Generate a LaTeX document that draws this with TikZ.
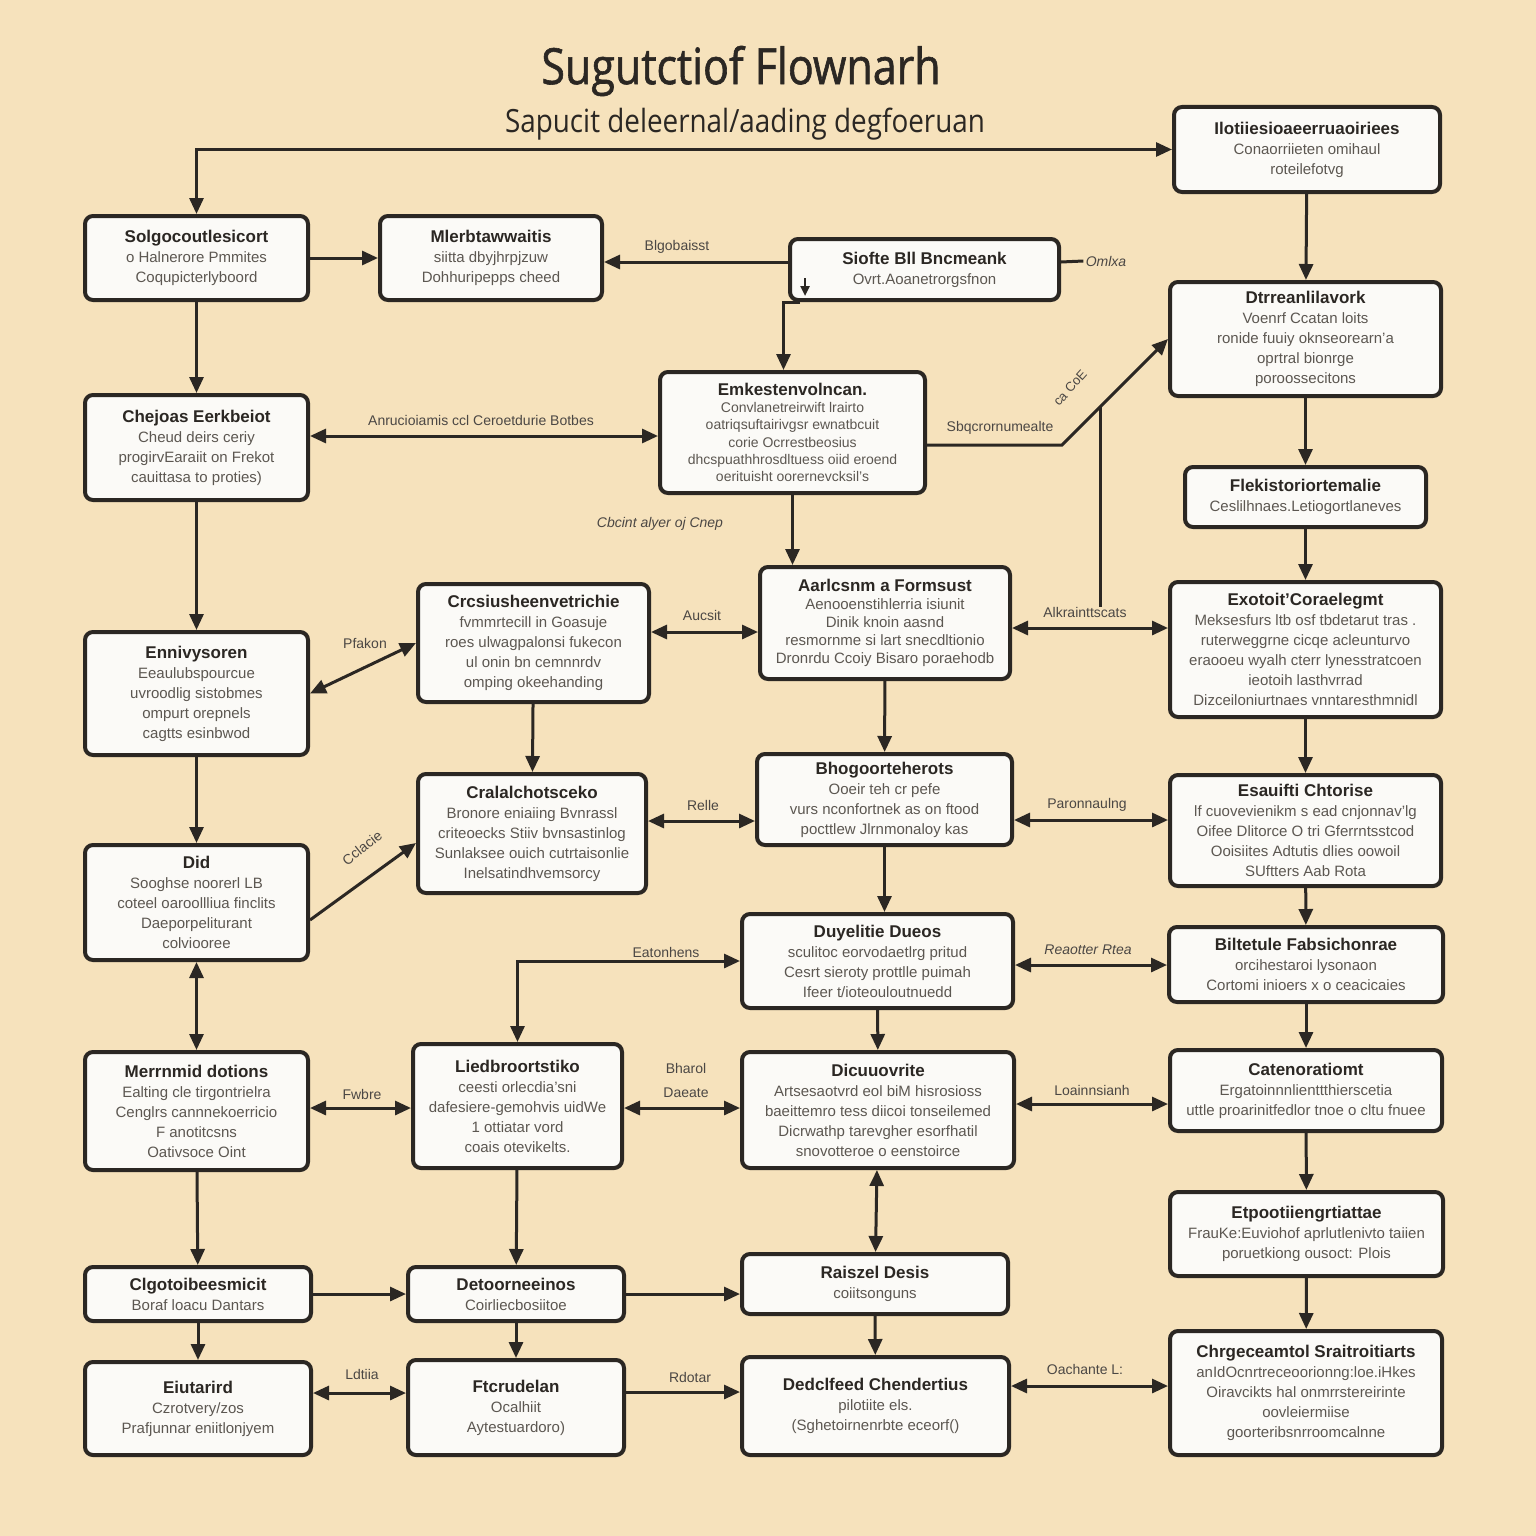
\documentclass[tikz,border=0pt]{standalone}
\usepackage{fontspec}
\setmainfont{Liberation Sans}
\newfontfamily\titlefont[FakeBold=1.2, FakeStretch=0.86]{Open Sans}
\newfontfamily\subfont[FakeStretch=0.87]{Open Sans}
\usetikzlibrary{arrows.meta, calc}

\definecolor{paper}{HTML}{F6E2BC}
\definecolor{ink}{HTML}{2B2723}
\definecolor{body}{HTML}{5C5751}
\definecolor{cardfill}{HTML}{FBFAF7}

\tikzstyle{card}=[draw=ink, line width=2pt, rounded corners=4pt, fill=cardfill, align=center, text=body, inner sep=2pt, font=\fontsize{7.5}{10}\selectfont]
\tikzstyle{lbl}=[text=ink!85, inner sep=1pt, font=\fontsize{7}{8}\selectfont]
\tikzstyle{wire}=[draw=ink, line width=1.5pt]
\tikzset{wh/.style 2 args={minimum width=#1*0.5pt-2pt, minimum height=#2*0.5pt-2pt}}
\newcommand{\card}{\node[card]}
\newcommand{\hd}[1]{\textcolor{ink}{\bfseries\fontsize{8.5}{10}\selectfont #1}}

\begin{document}
\begin{tikzpicture}[x=0.5pt, y=-0.5pt, >={Triangle[length=8pt, width=7pt]}]
\useasboundingbox (0,0) rectangle (1536,1536);
\fill[paper] (0,0) rectangle (1536,1536);

\node[text=ink] (title) at (741,71) {\titlefont\fontsize{25}{30}\selectfont Sugutctiof Flownarh};
\node[text=ink] (subtitle) at (745,124) {\subfont\fontsize{16}{20}\selectfont Sapucit deleernal/aading degfoeruan};

% left column
\card (A1) at (196.5,258) [wh={227}{88}] {\hd{Solgocoutlesicort}\\o Halnerore Pmmites\\Coqupicterlyboord};
\card (A2) at (196.5,447.5) [wh={227}{109}] {\hd{Chejoas Eerkbeiot}\\Cheud deirs ceriy\\progirvEaraiit on Frekot\\cauittasa to proties)};
\card (A3) at (196.5,693.5) [wh={227}{127}] {\hd{Ennivysoren}\\Eeaulubspourcue\\uvroodlig sistobmes\\ompurt orepnels\\cagtts esinbwod};
\card (A4) at (196.5,902.5) [wh={227}{119}] {\hd{Did}\\Sooghse noorerl LB\\coteel oaroollliua finclits\\Daeporpeliturant\\colviooree};
\card (A5) at (196.5,1111) [wh={227}{122}] {\hd{Merrnmid dotions}\\Ealting cle tirgontrielra\\Cenglrs cannnekoerricio\\F anotitcsns\\Oativsoce Oint};
\card (A6) at (198,1294) [wh={230}{58}] {\hd{Clgotoibeesmicit}\\Boraf loacu Dantars};
\card (A7) at (198,1408.5) [wh={230}{97}] {\hd{Eiutarird}\\Czrotvery/zos\\Prafjunnar eniitlonjyem};

% second column
\card (B1) at (491,258) [wh={226}{88}] {\hd{Mlerbtawwaitis}\\siitta dbyjhrpjzuw\\Dohhuripepps cheed};
\card (B2) at (533.5,643) [wh={235}{122}] {\hd{Crcsiusheenvetrichie}\\fvmmrtecill in Goasuje\\roes ulwagpalonsi fukecon\\ul onin bn cemnnrdv\\omping okeehanding};
\card (B3) at (532,833.5) [wh={232}{123}] {\hd{Cralalchotsceko}\\Bronore eniaiing Bvnrassl\\criteoecks Stiiv bvnsastinlog\\Sunlaksee ouich cutrtaisonlie\\Inelsatindhvemsorcy};
\card (B4) at (517.5,1106) [wh={213}{128}] {\hd{Liedbroortstiko}\\ceesti orlecdia'sni\\dafesiere-gemohvis uidWe\\1 ottiatar vord\\coais otevikelts.};
\card (B5) at (516,1294) [wh={220}{58}] {\hd{Detoorneeinos}\\Coirliecbosiitoe};
\card (B6) at (516,1407.5) [wh={220}{99}] {\hd{Ftcrudelan}\\Ocalhiit\\Aytestuardoro)};

% third column
\card (C0) at (924.5,269.5) [wh={273}{65}] {\hd{Siofte Bll Bncmeank}\\Ovrt.Aoanetrorgsfnon};
\card (C1) at (792.5,432.5) [wh={269}{125}, font=\fontsize{7}{8.6}\selectfont] {\hd{Emkestenvolncan.}\\Convlanetreirwift lrairto\\oatriqsuftairivgsr ewnatbcuit\\corie Ocrrestbeosius\\dhcspuathhrosdltuess oiid eroend\\oerituisht oorernevcksil's};
\card (C2) at (885,623) [wh={254}{116}, font=\fontsize{7.5}{9}\selectfont] {\hd{Aarlcsnm a Formsust}\\Aenooenstihlerria isiunit\\Dinik knoin aasnd\\resmornme si lart snecdltionio\\Dronrdu Ccoiy Bisaro poraehodb};
\card (C3) at (884.5,799.5) [wh={259}{95}] {\hd{Bhogoorteherots}\\Ooeir teh cr pefe\\vurs nconfortnek as on ftood\\pocttlew Jlrnmonaloy kas};
\card (C4) at (877.5,961) [wh={275}{98}] {\hd{Duyelitie Dueos}\\sculitoc eorvodaetlrg pritud\\Cesrt sieroty prottlle puimah\\Ifeer t/ioteouloutnuedd};
\card (C5) at (878,1110) [wh={276}{120}] {\hd{Dicuuovrite}\\Artsesaotvrd eol biM hisrosioss\\baeittemro tess diicoi tonseilemed\\Dicrwathp tarevgher esorfhatil\\snovotteroe o eenstoirce};
\card (C6) at (875,1284) [wh={270}{64}] {\hd{Raiszel Desis}\\coiitsonguns};
\card (C7) at (875.5,1406) [wh={271}{102}] {\hd{Dedclfeed Chendertius}\\pilotiite els.\\(Sghetoirnenrbte eceorf()};

% right column
\card (D0) at (1307,149.5) [wh={270}{89}] {\hd{Ilotiiesioaeerruaoiriees}\\Conaorriieten omihaul\\roteilefotvg};
\card (D1) at (1305.5,339) [wh={275}{118}] {\hd{Dtrreanlilavork}\\Voenrf Ccatan loits\\ronide fuuiy oknseorearn'a\\oprtral bionrge\\poroossecitons};
\card (D2) at (1305.5,497) [wh={245}{64}] {\hd{Flekistoriortemalie}\\Ceslilhnaes.Letiogortlaneves};
\card (D3) at (1305.5,649.5) [wh={275}{139}] {\hd{Exotoit'Coraelegmt}\\Meksesfurs ltb osf tbdetarut tras .\\ruterweggrne cicqe acleunturvo\\eraooeu wyalh cterr lynesstratcoen\\ieotoih lasthvrrad\\Dizceiloniurtnaes vnntaresthmnidl};
\card (D4) at (1305.5,830.5) [wh={275}{115}] {\hd{Esauifti Chtorise}\\lf cuovevienikm s ead cnjonnav'lg\\Oifee Dlitorce O tri Gferrntsstcod\\Ooisiites Adtutis dlies oowoil\\SUftters Aab Rota};
\card (D5) at (1306,964.5) [wh={278}{79}] {\hd{Biltetule Fabsichonrae}\\orcihestaroi lysonaon\\Cortomi inioers x o ceacicaies};
\card (D6) at (1306,1090.5) [wh={276}{85}] {\hd{Catenoratiomt}\\Ergatoinnnlienttthierscetia\\uttle proarinitfedlor tnoe o cltu fnuee};
\card (D7) at (1306.5,1234) [wh={277}{88}] {\hd{Etpootiiengrtiattae}\\FrauKe:Euviohof aprlutlenivto taiien\\poruetkiong ousoct: Plois};
\card (D8) at (1306,1393) [wh={276}{128}] {\hd{Chrgeceamtol Sraitroitiarts}\\anIdOcnrtreceoorionng:loe.iHkes\\Oiravcikts hal onmrrstereirinte\\oovleiermiise\\goorteribsnrroomcalnne};

% connector labels
\node[lbl] (labBlg) at (677,247) {Blgobaisst};
\node[lbl, font=\fontsize{7}{8}\selectfont\itshape] (labOmk) at (1106,261) {Omlxa};
\node[lbl] (labAnr) at (481,420) {Anrucioiamis ccl Ceroetdurie Botbes};
\node[lbl] (labSbq) at (1000,428) {Sbqcrornumealte};
\node[lbl, rotate=48, font=\fontsize{6.5}{8}\selectfont] (labCoe) at (1070,388) {ca CoE};
\node[lbl, font=\fontsize{7}{8}\selectfont\itshape] (labCbc) at (660,524) {Cbcint alyer oj Cnep};
\node[lbl] (labPfa) at (365,643) {Pfakon};
\node[lbl] (labAuc) at (702,615) {Aucsit};
\node[lbl] (labAlk) at (1085,612) {Alkrainttscats};
\node[lbl, rotate=38] (labCcl) at (362,848) {Cclacie};
\node[lbl] (labRel) at (703,805) {Relle};
\node[lbl] (labPar) at (1087,805) {Paronnaulng};
\node[lbl] (labEat) at (666,952) {Eatonhens};
\node[lbl, font=\fontsize{7}{8}\selectfont\itshape] (labRea) at (1088,950) {Reaotter Rtea};
\node[lbl] (labFwb) at (362,1094) {Fwbre};
\node[lbl, align=center, font=\fontsize{7}{12}\selectfont] (labBha) at (686,1080) {Bharol\\Daeate};
\node[lbl] (labLoa) at (1092,1090) {Loainnsianh};
\node[lbl] (labLdt) at (362,1374) {Ldtiia};
\node[lbl] (labRdo) at (690,1377) {Rdotar};
\node[lbl] (labOac) at (1085,1369) {Oachante L:};

% connectors
\draw[wire,<->] (A1.north) |- (D0.west);
\draw[wire,->] (A1) -- (B1);
\draw[wire,->] (C0.west |- 0,262) -- (B1.east |- 0,262);
\draw[wire] (C0.east |- 0,262) -- (labOmk.west);
\draw[wire,->] ($(C0.south west)+(12,0)$) -| ([xshift=-4.5pt]C1.north);
\draw[wire, line width=1.2pt, -{Triangle[length=5pt, width=4.5pt]}] ($(C0.south west)+(17,-24)$) -- ($(C0.south west)+(17,-6)$);
\draw[wire,->] (A1) -- (A2);
\draw[wire,<->] (A2.east |- 0,436) -- (C1.west |- 0,436);
\coordinate (kink) at (1062,445);
\draw[wire,->] (C1.east |- kink) -- (kink) -- (D1.west);
\coordinate (tap) at ($(kink)!0.36!(D1.west)$);
\draw[wire] (tap) -- (tap |- 0,607);
\draw[wire,->] (C1.south) -- (C1.south |- C2.north);
\draw[wire,->] (D0) -- (D1);
\draw[wire,->] (D1) -- (D2);
\draw[wire,->] (D2) -- (D3);
\draw[wire,->] (A2) -- (A3);
\draw[wire,<->] (A3.east) -- (B2.west);
\draw[wire,<->] (B2.east |- 0,632) -- (C2.west |- 0,632);
\draw[wire,<->] (C2.east |- 0,628) -- (D3.west |- 0,628);
\draw[wire,->] (B2) -- (B3);
\draw[wire,->] (C2) -- (C3);
\draw[wire,->] (D3) -- (D4);
\draw[wire,->] (A3) -- (A4);
\draw[wire,->] (A4.east |- 0,920) -- (B3.west |- 0,843);
\draw[wire,<->] (B3.east |- 0,821) -- (C3.west |- 0,821);
\draw[wire,<->] (C3.east |- 0,820) -- (D4.west |- 0,820);
\draw[wire,->] (C3.south) -- (C3.south |- C4.north);
\draw[wire,->] (D4) -- (D5);
\draw[wire,<->] (A4) -- (A5);
\draw[wire,<->] (B4.north) |- (C4.west);
\draw[wire,<->] (C4.east |- 0,965) -- (D5.west |- 0,965);
\draw[wire,->] (C4) -- (C5);
\draw[wire,->] (D5) -- (D6);
\draw[wire,<->] (A5.east |- 0,1108) -- (B4.west |- 0,1108);
\draw[wire,<->] (B4.east |- 0,1108) -- (C5.west |- 0,1108);
\draw[wire,<->] (C5.east |- 0,1104) -- (D6.west |- 0,1104);
\draw[wire,->] (A5) -- (A6);
\draw[wire,->] (B4) -- (B5);
\draw[wire,<->] (C5) -- (C6);
\draw[wire,->] (D6) -- (D7);
\draw[wire,->] (A6) -- (B5);
\draw[wire,->] (B5.east) -- (B5.east -| C6.west);
\draw[wire,->] (A6) -- (A7);
\draw[wire,->] (B5) -- (B6);
\draw[wire,->] (C6) -- (C7);
\draw[wire,->] (D7) -- (D8);
\draw[wire,<->] (A7.east |- 0,1393) -- (B6.west |- 0,1393);
\draw[wire,->] (B6.east |- 0,1392) -- (C7.west |- 0,1392);
\draw[wire,<->] (C7.east |- 0,1386) -- (D8.west |- 0,1386);
\end{tikzpicture}
\end{document}
